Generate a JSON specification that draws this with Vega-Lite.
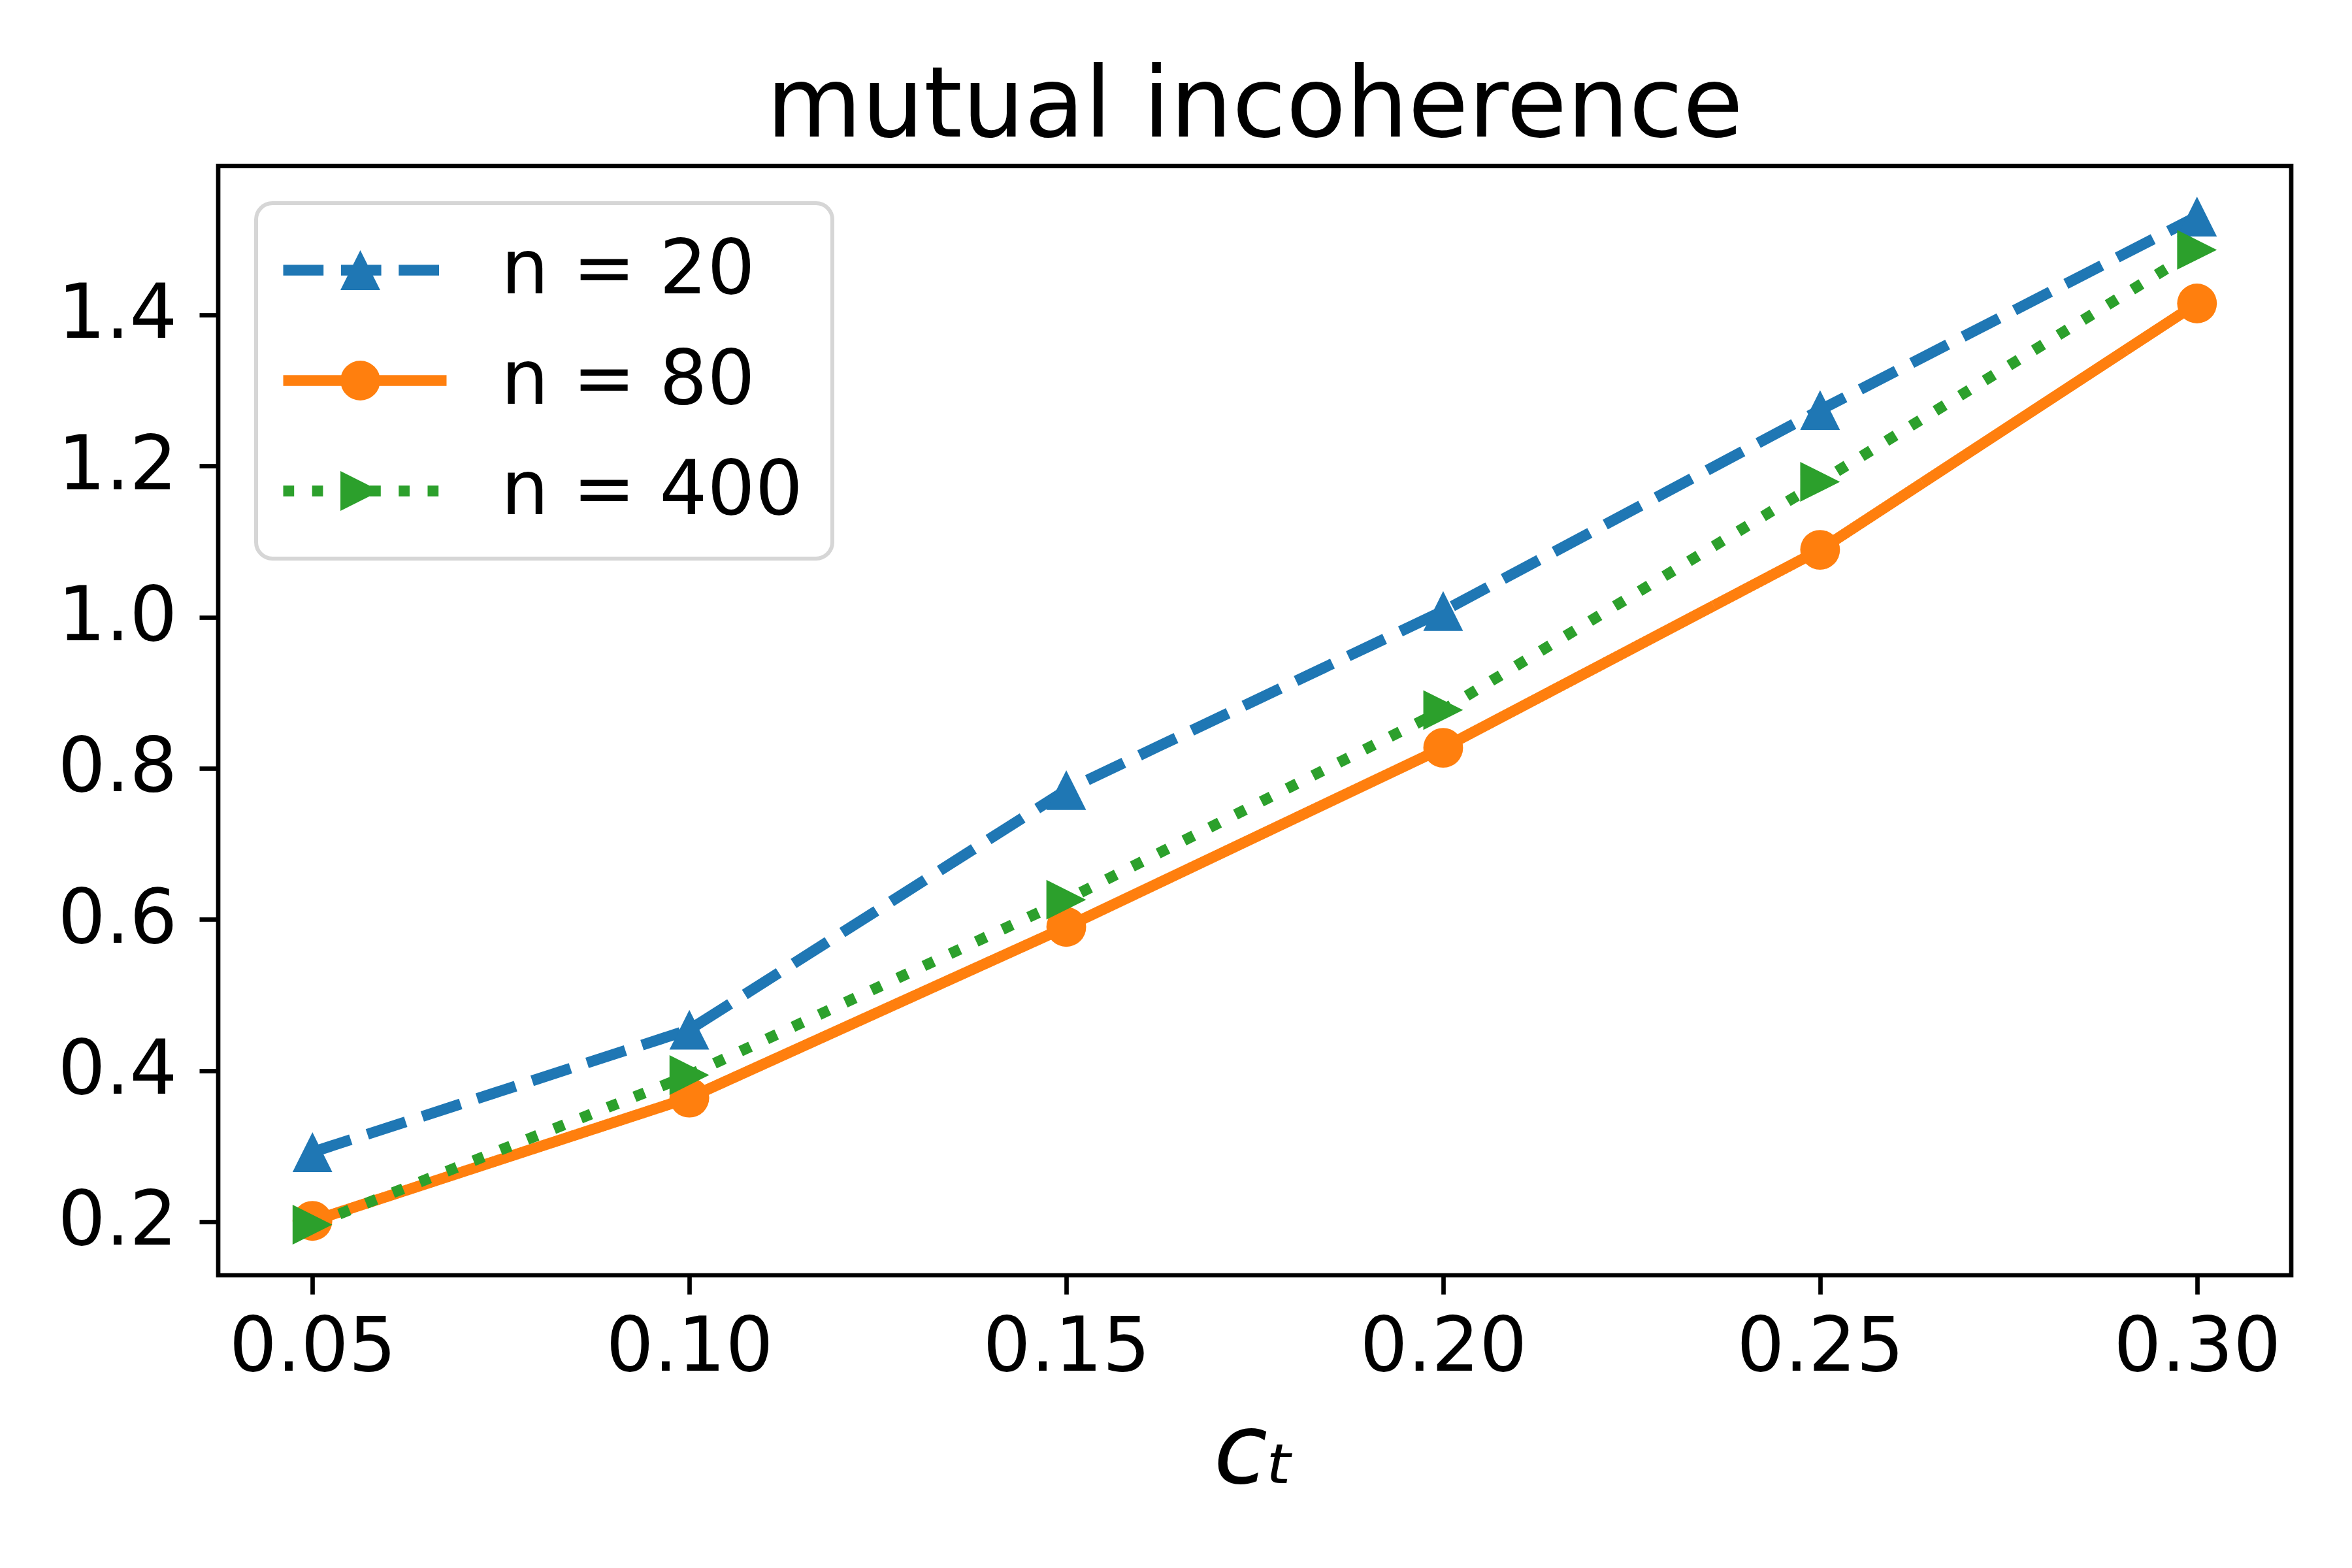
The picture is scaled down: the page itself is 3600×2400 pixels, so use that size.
{
  "$schema": "https://vega.github.io/schema/vega-lite/v6.json",
  "autosize": "none",
  "width": 3173,
  "height": 1698,
  "padding": {"left": 334, "top": 254, "right": 93, "bottom": 448},
  "background": "white",
  "title": {
    "text": "mutual incoherence",
    "font": "DejaVu Sans",
    "fontSize": 150,
    "fontWeight": "normal",
    "color": "black",
    "anchor": "middle",
    "offset": 14
  },
  "data": {
    "values": [
      {"series": "n = 20", "ct": 0.05, "value": 0.292},
      {"series": "n = 20", "ct": 0.10, "value": 0.454},
      {"series": "n = 20", "ct": 0.15, "value": 0.771},
      {"series": "n = 20", "ct": 0.20, "value": 1.008},
      {"series": "n = 20", "ct": 0.25, "value": 1.274},
      {"series": "n = 20", "ct": 0.30, "value": 1.530},
      {"series": "n = 80", "ct": 0.05, "value": 0.201},
      {"series": "n = 80", "ct": 0.10, "value": 0.364},
      {"series": "n = 80", "ct": 0.15, "value": 0.590},
      {"series": "n = 80", "ct": 0.20, "value": 0.827},
      {"series": "n = 80", "ct": 0.25, "value": 1.089},
      {"series": "n = 80", "ct": 0.30, "value": 1.415},
      {"series": "n = 400", "ct": 0.05, "value": 0.196},
      {"series": "n = 400", "ct": 0.10, "value": 0.394},
      {"series": "n = 400", "ct": 0.15, "value": 0.626},
      {"series": "n = 400", "ct": 0.20, "value": 0.877},
      {"series": "n = 400", "ct": 0.25, "value": 1.179},
      {"series": "n = 400", "ct": 0.30, "value": 1.486}
    ]
  },
  "encoding": {
    "x": {
      "field": "ct",
      "type": "quantitative",
      "scale": {"domain": [0.0375, 0.3125], "nice": false, "zero": false},
      "axis": {
        "values": [0.05, 0.10, 0.15, 0.20, 0.25, 0.30],
        "format": ".2f",
        "title": "cₜ",
        "titleFont": "DejaVu Sans",
        "titleFontStyle": "italic",
        "titleFontWeight": "normal",
        "titleFontSize": 150,
        "titleColor": "black",
        "titlePadding": 30,
        "labelPadding": 25
      }
    },
    "y": {
      "field": "value",
      "type": "quantitative",
      "scale": {"domain": [0.129, 1.597], "nice": false, "zero": false},
      "axis": {
        "values": [0.2, 0.4, 0.6, 0.8, 1.0, 1.2, 1.4],
        "format": ".1f",
        "title": null,
        "labelPadding": 34
      }
    }
  },
  "layer": [
    {
      "mark": {"type": "line", "strokeWidth": 16.7, "strokeCap": "butt"},
      "encoding": {
        "color": {
          "field": "series",
          "type": "nominal",
          "scale": {"domain": ["n = 20", "n = 80", "n = 400"], "range": ["#1f77b4", "#ff7f0e", "#2ca02c"]},
          "legend": {
            "orient": "none", "legendX": 58, "legendY": 57, "title": null,
            "symbolType": "M-5,0L5,0", "symbolSize": 2500, "symbolStrokeWidth": 16.7, "symbolOffset": 64,
            "labelFont": "DejaVu Sans", "labelFontSize": 115, "labelColor": "black", "labelLimit": 2000,
            "labelOffset": 151, "rowPadding": 53, "padding": 45,
            "strokeColor": "#d6d6d6", "fillColor": "white", "cornerRadius": 25,
            "encode": {"legend": {"update": {"strokeWidth": {"value": 6}}}}
          }
        },
        "strokeDash": {
          "field": "series",
          "type": "nominal",
          "scale": {"domain": ["n = 20", "n = 80", "n = 400"], "range": [[61.7, 26.7], [1, 0], [16.7, 27.5]]},
          "legend": {
            "orient": "none", "legendX": 58, "legendY": 57, "title": null,
            "symbolType": "M-5,0L5,0", "symbolSize": 2500, "symbolStrokeWidth": 16.7, "symbolOffset": 64,
            "labelFont": "DejaVu Sans", "labelFontSize": 115, "labelColor": "black", "labelLimit": 2000,
            "labelOffset": 151, "rowPadding": 53, "padding": 45,
            "strokeColor": "#d6d6d6", "fillColor": "white", "cornerRadius": 25,
            "encode": {"legend": {"update": {"strokeWidth": {"value": 6}}}}
          }
        }
      }
    },
    {
      "mark": {"type": "point", "filled": true, "opacity": 1, "size": 3700, "strokeWidth": 0},
      "encoding": {
        "color": {
          "field": "series",
          "type": "nominal",
          "scale": {"domain": ["n = 20", "n = 80", "n = 400"], "range": ["#1f77b4", "#ff7f0e", "#2ca02c"]},
          "legend": {
            "orient": "none", "legendX": 58, "legendY": 57, "title": null,
            "symbolSize": 3700, "symbolStrokeWidth": 0, "symbolOffset": 57, "symbolOpacity": 1,
            "labelFont": "DejaVu Sans", "labelFontSize": 115, "labelExpr": "''", "labelLimit": 2000,
            "labelOffset": 78, "rowPadding": 53, "padding": 45
          }
        },
        "shape": {
          "field": "series",
          "type": "nominal",
          "scale": {"domain": ["n = 20", "n = 80", "n = 400"], "range": ["M0,-1L1,1L-1,1Z", "circle", "M1,0L-1,-1L-1,1Z"]},
          "legend": {
            "orient": "none", "legendX": 58, "legendY": 57, "title": null,
            "symbolSize": 3700, "symbolStrokeWidth": 0, "symbolOffset": 57, "symbolOpacity": 1,
            "labelFont": "DejaVu Sans", "labelFontSize": 115, "labelExpr": "''", "labelLimit": 2000,
            "labelOffset": 78, "rowPadding": 53, "padding": 45
          }
        }
      }
    }
  ],
  "resolve": {
    "scale": {"color": "independent", "strokeDash": "independent", "shape": "independent"},
    "legend": {"color": "independent", "strokeDash": "independent", "shape": "independent"}
  },
  "config": {
    "view": {"stroke": "black", "strokeWidth": 6.7},
    "axis": {
      "domain": false,
      "grid": false,
      "ticks": true,
      "tickColor": "black",
      "tickWidth": 6.7,
      "tickSize": 29,
      "labelFont": "DejaVu Sans",
      "labelFontSize": 115,
      "labelColor": "black",
      "labelLimit": 1000
    }
  }
}
